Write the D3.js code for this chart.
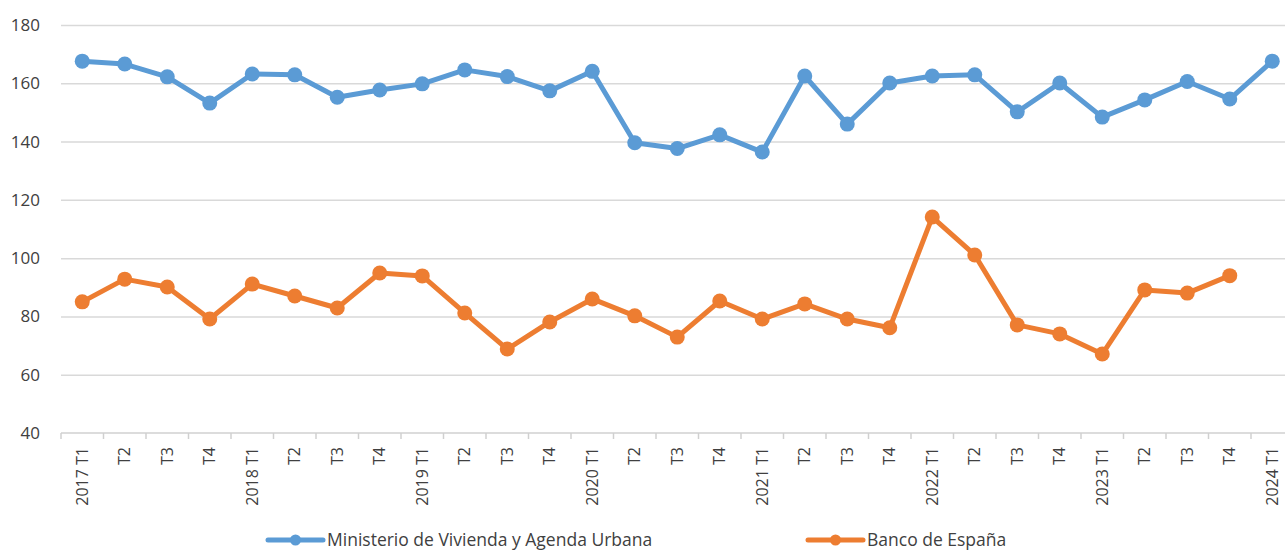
<!DOCTYPE html>
<html>
<head>
<meta charset="utf-8">
<script src="https://cdn.jsdelivr.net/npm/d3@7"></script>
<style>
  body { margin: 0; background: #fff; }
  svg { display: block; font-family: "Open Sans", sans-serif; }
  .grid line { stroke: #d9d9d9; stroke-width: 1.5; }
  .grid .domain { display: none; }
</style>
</head>
<body>
<script>
  'use strict';

  const quarters = [
    '2017 T1', 'T2', 'T3', 'T4',
    '2018 T1', 'T2', 'T3', 'T4',
    '2019 T1', 'T2', 'T3', 'T4',
    '2020 T1', 'T2', 'T3', 'T4',
    '2021 T1', 'T2', 'T3', 'T4',
    '2022 T1', 'T2', 'T3', 'T4',
    '2023 T1', 'T2', 'T3', 'T4',
    '2024 T1'
  ];
  const ministerio = [
    167.6, 166.6, 162.2, 153.2,
    163.2, 162.9, 155.2, 157.7,
    159.8, 164.6, 162.3, 157.4,
    164.1, 139.6, 137.6, 142.3,
    136.4, 162.5, 146.0, 160.1,
    162.5, 162.9, 150.2, 160.1,
    148.4, 154.3, 160.6, 154.6,
    167.6
  ];
  const bancoEspana = [
    85.0, 92.8, 90.1, 79.1,
    91.1, 87.0, 82.9, 94.9,
    93.9, 81.2, 68.8, 78.1,
    86.0, 80.2, 72.9, 85.3,
    79.1, 84.3, 79.1, 76.1,
    114.1, 101.1, 77.1, 74.0,
    67.1, 89.1, 88.0, 94.0
  ];
  const yTicks = [40, 60, 80, 100, 120, 140, 160, 180];
  const seriesNames = ['Ministerio de Vivienda y Agenda Urbana', 'Banco de España'];
  const colors = ['#5b9bd5', '#ed7d31'];

  const w = 1285;
  const h = 550;
  const left = 61;
  const step = 42.5;

  const svg = d3.select('body').append('svg')
    .attr('width', w)
    .attr('height', h);

  // x is band-like: each quarter centered in its slot, chart runs off the right edge
  const xScale = d3.scaleBand()
    .domain(d3.range(quarters.length))
    .range([left, left + step * quarters.length])
    .paddingInner(0).paddingOuter(0);
  const xc = (i) => xScale(i) + xScale.bandwidth() / 2;

  const yScale = d3.scaleLinear()
    .domain([40, 180])
    .range([433, 25]);

  // horizontal gridlines
  svg.append('g')
    .attr('class', 'grid')
    .attr('transform', 'translate(' + left + ',0)')
    .call(d3.axisLeft(yScale).tickValues(yTicks.slice(1)).tickSize(-(w - left)).tickFormat(''));

  // y labels
  svg.append('g')
    .selectAll('text')
    .data(yTicks)
    .enter()
    .append('text')
    .attr('x', 40)
    .attr('y', (d) => yScale(d))
    .attr('dy', '0.35em')
    .attr('text-anchor', 'end')
    .attr('fill', '#404040')
    .style('font-size', '17px')
    .text((d) => d);

  // x axis
  const xAxis = svg.append('g')
    .attr('transform', 'translate(0,' + yScale(40) + ')');
  xAxis.append('line')
    .attr('x1', left).attr('x2', w)
    .attr('stroke', '#d0d0d0').attr('stroke-width', 1.5);
  xAxis.selectAll('.tick')
    .data(d3.range(quarters.length + 1))
    .enter()
    .append('line')
    .attr('x1', (i) => left + i * xScale.bandwidth())
    .attr('x2', (i) => left + i * xScale.bandwidth())
    .attr('y1', 0).attr('y2', 6)
    .attr('stroke', '#d0d0d0').attr('stroke-width', 1.5);
  xAxis.selectAll('.lbl')
    .data(quarters)
    .enter()
    .append('text')
    .attr('transform', (d, i) => 'translate(' + xc(i) + ',14) rotate(-90)')
    .attr('dy', '0.35em')
    .attr('text-anchor', 'end')
    .attr('fill', '#404040')
    .style('font-size', '16px')
    .text((d) => d);

  // lines and markers
  const line = d3.line()
    .x((d, i) => xc(i))
    .y((d) => yScale(d));

  [ministerio, bancoEspana].forEach((values, s) => {
    svg.append('path')
      .datum(values)
      .attr('fill', 'none')
      .attr('stroke', colors[s])
      .attr('stroke-width', 5)
      .attr('stroke-linejoin', 'round')
      .attr('d', line);
    svg.append('g')
      .selectAll('circle')
      .data(values)
      .enter()
      .append('circle')
      .attr('cx', (d, i) => xc(i))
      .attr('cy', (d) => yScale(d))
      .attr('r', 7.5)
      .attr('fill', colors[s]);
  });

  // legend
  const legendX = [268, 808];
  const legend = svg.append('g')
    .selectAll('g')
    .data(seriesNames)
    .enter()
    .append('g')
    .attr('transform', (d, i) => 'translate(' + legendX[i] + ',540)');
  legend.append('line')
    .attr('x1', 0).attr('x2', 55)
    .attr('stroke', (d, i) => colors[i])
    .attr('stroke-width', 5)
    .attr('stroke-linecap', 'round');
  legend.append('circle')
    .attr('cx', 27.5)
    .attr('r', 5.5)
    .attr('fill', (d, i) => colors[i]);
  legend.append('text')
    .attr('x', 59)
    .attr('dy', '0.35em')
    .attr('fill', '#404040')
    .style('font-size', '17.5px')
    .text((d) => d);
</script>
</body>
</html>
